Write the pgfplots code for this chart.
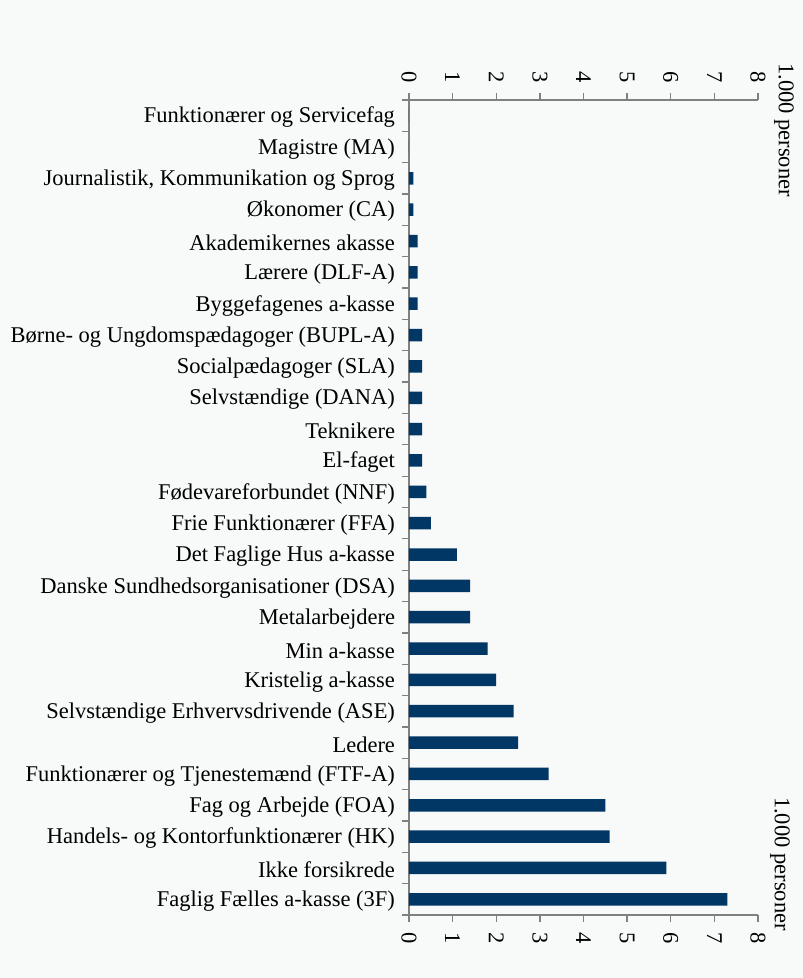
\documentclass[border=0pt]{standalone}
\usepackage{fontspec}
\setmainfont{Liberation Serif}
\usepackage{pgfplots}
\pgfplotsset{compat=1.18}
\definecolor{bgc}{HTML}{F8F9F9}
\definecolor{barc}{HTML}{003764}
\definecolor{axgray}{HTML}{808080}
\pgfplotsset{
  common/.style={
    at={(0,0)}, anchor=south west,
    scale only axis, width=349bp, height=815bp,
    xmin=0, xmax=8, ymin=-0.5, ymax=25.5,
    tick align=outside,
    major tick length=6.5bp,
    axis line style={axgray, line width=1.3bp},
    tick style={axgray, line width=1.3bp},
    xtick={0,1,...,8},
    tick label style={font=\fontsize{22.5bp}{27bp}\selectfont, black},
    /pgf/number format/assume math mode=true,
  }
}
\begin{document}
\begin{tikzpicture}
\fill[bgc] (-409bp,-63bp) rectangle (394bp,915bp);
\begin{axis}[
  common,
  xbar, bar width=12.5bp,
  axis x line*=bottom, axis y line*=left,
  xticklabel style={rotate=-90, anchor=west, xshift=7bp},
  ytick={-0.5,0.5,...,25.5},
  yticklabels={
    Faglig Fælles a-kasse (3F),
    Ikke forsikrede,
    Handels- og Kontorfunktionærer (HK),
    Fag og Arbejde (FOA),
    Funktionærer og Tjenestemænd (FTF-A),
    Ledere,
    Selvstændige Erhvervsdrivende (ASE),
    Kristelig a-kasse,
    Min a-kasse,
    Metalarbejdere,
    Danske Sundhedsorganisationer (DSA),
    Det Faglige Hus a-kasse,
    Frie Funktionærer (FFA),
    Fødevareforbundet (NNF),
    El-faget,
    Teknikere,
    Selvstændige (DANA),
    Socialpædagoger (SLA),
    Børne- og Ungdomspædagoger (BUPL-A),
    Byggefagenes a-kasse,
    Lærere (DLF-A),
    Akademikernes akasse,
    Økonomer (CA),
    {Journalistik, Kommunikation og Sprog},
    Magistre (MA),
    Funktionærer og Servicefag,
    {}
  },
  yticklabel style={anchor=east, yshift=13.9bp, xshift=-4bp},
  clip=false,
]
\addplot[fill=barc, draw=none] coordinates {
  (7.3,0) (5.9,1) (4.6,2) (4.5,3) (3.2,4) (2.5,5) (2.4,6) (2.0,7)
  (1.8,8) (1.4,9) (1.4,10) (1.1,11) (0.5,12) (0.4,13) (0.3,14)
  (0.3,15) (0.3,16) (0.3,17) (0.3,18) (0.2,19) (0.2,20) (0.2,21)
  (0.1,22) (0.1,23) (0,24) (0,25)
};
\node[rotate=-90, anchor=east, inner sep=0pt, font=\fontsize{22.5bp}{27bp}\selectfont]
  at ([xshift=22bp, yshift=-16bp]rel axis cs:1,0) {1.000 personer};
\node[rotate=-90, anchor=west, inner sep=0pt, font=\fontsize{22.5bp}{27bp}\selectfont]
  at ([xshift=26bp, yshift=37bp]rel axis cs:1,1) {1.000 personer};
\end{axis}
\begin{axis}[
  common,
  axis x line*=top, axis y line=none,
  xticklabel style={rotate=-90, anchor=east, xshift=-7bp},
  ytick=\empty,
]
\end{axis}
\end{tikzpicture}
\end{document}
